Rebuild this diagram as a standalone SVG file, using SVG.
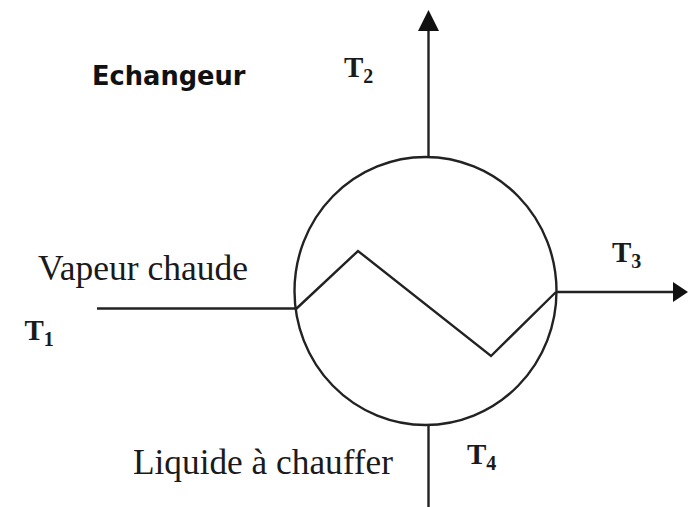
<svg xmlns="http://www.w3.org/2000/svg" width="688" height="507" viewBox="0 0 688 507">
<style>
.l{fill:none;stroke:#222;stroke-width:2.4}
.a{fill:#111}
.s{font-family:"Liberation Serif",serif;fill:#1a1a1a}
.t{font-weight:bold;font-size:29px}
.n{font-size:20px}
</style>
<rect width="688" height="507" fill="#fff"/>
<g id="connectors">
<path class="l" d="M428.500 157V30"/>
<path class="a" d="M428.500 10L439 31H418Z"/>
<path class="l" d="M97 308.500H296"/>
<path class="l" d="M556 292H675"/>
<path class="a" d="M688 292L673 282V302Z"/>
<path class="l" d="M428.500 425V507"/>
<path class="l" d="M296 309L358 251L491 356L556 292"/>
</g>
<g id="exchanger"><ellipse class="l" cx="425.500" cy="291" rx="131" ry="134"/></g>
<g id="title"><text x="92" y="85" font-family="'DejaVu Sans',sans-serif" font-weight="bold" font-size="25.700" fill="#111">Echangeur</text></g>
<g id="t2"><text class="s t" x="344" y="77">T<tspan class="n" dy="6">2</tspan></text></g>
<g id="t3"><text class="s t" x="612" y="262">T<tspan class="n" dy="6">3</tspan></text></g>
<g id="t1"><text class="s t" x="24.500" y="340">T<tspan class="n" dy="6">1</tspan></text></g>
<g id="t4"><text class="s t" x="467" y="464">T<tspan class="n" dy="6">4</tspan></text></g>
<g id="vapeur"><text class="s" x="38" y="280" font-size="35.500">Vapeur chaude</text></g>
<g id="liquide"><text class="s" x="133" y="474" font-size="35.300">Liquide à chauffer</text></g>
</svg>
